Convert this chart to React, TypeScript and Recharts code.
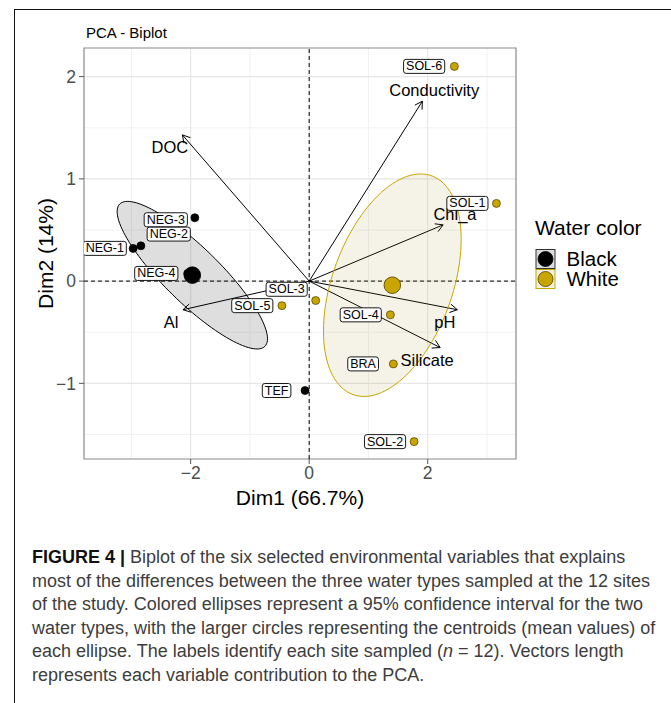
import {
  ScatterChart,
  Scatter,
  XAxis,
  YAxis,
  CartesianGrid,
  ReferenceLine,
  ReferenceArea,
  Legend,
} from "recharts";

const FONT = '"Liberation Sans", Arial, Helvetica, sans-serif';

// Site scores on the first two PCA dimensions
const sites = ["NEG-1", "NEG-2", "NEG-3", "NEG-4", "TEF", "SOL-1", "SOL-2", "SOL-3", "SOL-4", "SOL-5", "SOL-6", "BRA"];
const siteGroup = ["Black", "Black", "Black", "Black", "Black", "White", "White", "White", "White", "White", "White", "White"];
const dim1 = [-2.97, -2.84, -1.93, -2.05, -0.07, 3.16, 1.77, 0.11, 1.37, -0.46, 2.45, 1.42];
const dim2 = [0.32, 0.345, 0.62, 0.075, -1.07, 0.76, -1.57, -0.19, -0.33, -0.24, 2.1, -0.81];
// where the repelled site labels ended up
const siteLabelDim1 = [-3.45, -2.37, -2.42, -2.58, -0.55, 2.67, 1.28, -0.38, 0.87, -0.96, 1.94, 0.91];
const siteLabelDim2 = [0.32, 0.46, 0.6, 0.075, -1.07, 0.76, -1.57, -0.08, -0.33, -0.24, 2.1, -0.81];

// Variable loadings (arrow tips) and their label anchors
const variables = ["DOC", "Conductivity", "Chl_a", "pH", "Silicate", "Al"];
const varDim1 = [-2.14, 1.91, 2.26, 2.5, 2.21, -2.13];
const varDim2 = [1.43, 1.76, 0.55, -0.28, -0.65, -0.28];
const varLabelDim1 = [-2.35, 2.11, 2.46, 2.29, 1.99, -2.33];
const varLabelDim2 = [1.31, 1.87, 0.66, -0.4, -0.77, -0.4];

const groups = ["Black", "White"];
const xTicks = [-2, 0, 2];
const yTicks = [-1, 0, 1, 2];
const xMinor = [-3, -1, 1, 3];
const yMinor = [-1.5, -0.5, 0.5, 1.5];

const X_DOMAIN: [number, number] = [-3.8, 3.49];
const Y_DOMAIN: [number, number] = [-1.74, 2.28];

const COLORS: Record<string, string> = { Black: "#000000", White: "#C9A500" };
const ELLIPSE_FILL: Record<string, string> = { Black: "#000000", White: "#9b8410" };

const captionLines = [
  "Biplot of the six selected environmental variables that explains",
  "most of the differences between the three water types sampled at the 12 sites",
  "of the study. Colored ellipses represent a 95% confidence interval for the two",
  "water types, with the larger circles representing the centroids (mean values) of",
  "each ellipse. The labels identify each site sampled (",
  "represents each variable contribution to the PCA.",
];

const points = sites.map((name, i) => ({ name, group: siteGroup[i], x: dim1[i], y: dim2[i] }));
const siteLabels = sites.map((name, i) => ({ name, x: siteLabelDim1[i], y: siteLabelDim2[i] }));
const varLabels = variables.map((name, i) => ({ name, x: varLabelDim1[i], y: varLabelDim2[i] }));

const mean = (a: number[]) => a.reduce((s, v) => s + v, 0) / a.length;

const centroids = groups.map((g) => {
  const idx = siteGroup.map((s, i) => (s === g ? i : -1)).filter((i) => i >= 0);
  return { group: g, x: mean(idx.map((i) => dim1[i])), y: mean(idx.map((i) => dim2[i])) };
});

// 95% confidence ellipse of the group mean (same idea as factoextra's "confidence" ellipses)
function confidenceEllipse(group: string) {
  const idx = siteGroup.map((s, i) => (s === group ? i : -1)).filter((i) => i >= 0);
  const xs = idx.map((i) => dim1[i]);
  const ys = idx.map((i) => dim2[i]);
  const n = xs.length;
  const mx = mean(xs);
  const my = mean(ys);
  let sxx = 0, syy = 0, sxy = 0;
  for (let k = 0; k < n; k++) {
    sxx += (xs[k] - mx) ** 2;
    syy += (ys[k] - my) ** 2;
    sxy += (xs[k] - mx) * (ys[k] - my);
  }
  const d = (n - 1) * n;
  sxx /= d; syy /= d; sxy /= d;
  const l11 = Math.sqrt(sxx);
  const l21 = sxy / l11;
  const l22 = Math.sqrt(syy - l21 * l21);
  const r = Math.sqrt(5.991); // chi-square(2 df) at 0.95
  const out = [];
  for (let k = 0; k <= 120; k++) {
    const t = (2 * Math.PI * k) / 120;
    const u = Math.cos(t), v = Math.sin(t);
    out.push({ x: mx + r * l11 * u, y: my + r * (l21 * u + l22 * v) });
  }
  return out;
}

const ellipses = groups.map((g) => ({ group: g, pts: confidenceEllipse(g) }));

// rough Arial advance widths, used to size the label boxes
const CHAR_W: Record<string, number> = {
  N: 0.722, E: 0.667, G: 0.778, "-": 0.333, S: 0.667, O: 0.778, L: 0.556,
  T: 0.611, F: 0.611, B: 0.667, R: 0.722, A: 0.667,
};
const textWidth = (s: string, fs: number) =>
  s.split("").reduce((w, c) => w + (CHAR_W[c] ?? 0.556), 0) * fs;

const minus = (v: number) => String(v).replace("-", "\u2212");

function SiteLabel(props: any) {
  const { cx, cy, payload } = props;
  const fs = 12.5;
  const w = textWidth(payload.name, fs) + 5;
  const h = 14;
  return (
    <g>
      <rect x={cx - w / 2} y={cy - h / 2} width={w} height={h} rx={2.5} fill="#fff" stroke="#000" strokeWidth={0.9} />
      <text x={cx} y={cy} textAnchor="middle" dominantBaseline="central" fontSize={fs} fontFamily={FONT} fill="#000">
        {payload.name}
      </text>
    </g>
  );
}

function VarLabel(props: any) {
  const { cx, cy, payload } = props;
  return (
    <text x={cx} y={cy} textAnchor="middle" dominantBaseline="central" fontSize={16.5} fontFamily={FONT} fill="#000">
      {payload.name}
    </text>
  );
}

function SitePoint(props: any) {
  const { cx, cy, payload } = props;
  const c = COLORS[payload.group];
  return <circle cx={cx} cy={cy} r={4} fill={c} stroke={payload.group === "Black" ? "#000" : "#4a3d00"} strokeWidth={0.7} />;
}

function CentroidPoint(props: any) {
  const { cx, cy, payload } = props;
  const c = COLORS[payload.group];
  return <circle cx={cx} cy={cy} r={8.3} fill={c} stroke={payload.group === "Black" ? "#000" : "#4a3d00"} strokeWidth={0.8} />;
}

function Arrow(props: any) {
  const { x1, y1, x2, y2 } = props;
  const a = Math.atan2(y2 - y1, x2 - x1);
  const len = 8.5;
  const spread = Math.PI / 6;
  const ax = x2 - len * Math.cos(a - spread);
  const ay = y2 - len * Math.sin(a - spread);
  const bx = x2 - len * Math.cos(a + spread);
  const by = y2 - len * Math.sin(a + spread);
  return (
    <g>
      <line x1={x1} y1={y1} x2={x2} y2={y2} stroke="#000" strokeWidth={1} />
      <path d={`M${ax},${ay}L${x2},${y2}L${bx},${by}`} fill="none" stroke="#000" strokeWidth={1} />
    </g>
  );
}

function WaterLegend() {
  return (
    <div style={{ fontFamily: FONT, color: "#000", position: "relative", width: 130, height: 76 }}>
      <div style={{ fontSize: 21, lineHeight: "24px", whiteSpace: "nowrap" }}>Water color</div>
      {groups.map((g, i) => (
        <div key={g} style={{ position: "absolute", left: 0, top: 32.7 + i * 20, height: 20, display: "flex" }}>
          <svg width={21} height={20} style={{ display: "block" }}>
            <rect x={1} y={0.5} width={19} height={19} fill={g === "Black" ? "#dcdcdc" : "#f4f1e2"} stroke={g === "Black" ? "#333" : COLORS.White} strokeWidth={1} />
            <circle cx={10.5} cy={10} r={7.5} fill={COLORS[g]} stroke={g === "Black" ? "#000" : "#4a3d00"} strokeWidth={0.8} />
          </svg>
          <span style={{ marginLeft: 10.5, fontSize: 20.5, lineHeight: "20px", whiteSpace: "nowrap" }}>{g}</span>
        </div>
      ))}
    </div>
  );
}

export default function App() {
  return (
    <div style={{ position: "absolute", left: 0, top: 0, width: 671, height: 703, background: "#fff", overflow: "hidden" }}>
      <div style={{ position: "absolute", left: 14, top: 9, width: 700, height: 700, borderTop: "1.3px solid #111", borderLeft: "1.3px solid #111" }} />
      <div style={{ position: "absolute", left: 86, top: 24.6, fontFamily: FONT, fontSize: 15, lineHeight: "15px", color: "#000" }}>
        PCA - Biplot
      </div>

      <div style={{ position: "absolute", left: 0, top: 0 }}>
        <ScatterChart width={671} height={520} margin={{ top: 48, right: 155, left: 44, bottom: 11 }}>
          <CartesianGrid verticalValues={xMinor} horizontalValues={yMinor} stroke="#f1f1f1" strokeWidth={1} fill="none" />
          <CartesianGrid verticalValues={xTicks} horizontalValues={yTicks} stroke="#e6e6e6" strokeWidth={1.1} fill="none" />
          <XAxis
            type="number"
            dataKey="x"
            domain={X_DOMAIN}
            allowDataOverflow
            ticks={xTicks}
            interval={0}
            height={50}
            tickSize={5}
            tickMargin={3}
            axisLine={false}
            tickLine={{ stroke: "#555" }}
            tickFormatter={minus}
            tick={{ fontSize: 17.5, fill: "#4d4d4d", fontFamily: FONT }}
            label={{
              content: ({ viewBox }: any) => (
                <text x={viewBox.x + viewBox.width / 2} y={viewBox.y + 46} textAnchor="middle" fontSize={21} fontFamily={FONT} fill="#000">
                  Dim1 (66.7%)
                </text>
              ),
            }}
          />
          <YAxis
            type="number"
            dataKey="y"
            domain={Y_DOMAIN}
            allowDataOverflow
            ticks={yTicks}
            interval={0}
            width={40}
            tickSize={5}
            tickMargin={3}
            axisLine={false}
            tickLine={{ stroke: "#555" }}
            tickFormatter={minus}
            tick={{ fontSize: 17.5, fill: "#4d4d4d", fontFamily: FONT }}
            label={{
              content: ({ viewBox }: any) => {
                const x = viewBox.x + 9;
                const y = viewBox.y + viewBox.height / 2;
                return (
                  <text x={x} y={y} transform={`rotate(-90, ${x}, ${y})`} textAnchor="middle" fontSize={21} fontFamily={FONT} fill="#000">
                    Dim2 (14%)
                  </text>
                );
              },
            }}
          />
          <ReferenceArea x1={X_DOMAIN[0]} x2={X_DOMAIN[1]} y1={Y_DOMAIN[0]} y2={Y_DOMAIN[1]} fill="none" stroke="#8a8a8a" strokeWidth={1.2} ifOverflow="visible" />

          {ellipses.map((e) => (
            <Scatter
              key={`ell-${e.group}`}
              data={e.pts}
              isAnimationActive={false}
              legendType="none"
              shape={() => <g />}
              line={(p: any) => (
                <path
                  d={p.points.map((pt: any, k: number) => `${k === 0 ? "M" : "L"}${pt.x},${pt.y}`).join("") + "Z"}
                  fill={ELLIPSE_FILL[e.group]}
                  fillOpacity={e.group === "Black" ? 0.13 : 0.1}
                  stroke={COLORS[e.group]}
                  strokeWidth={1}
                />
              )}
            />
          ))}

          <ReferenceLine x={0} stroke="#000" strokeDasharray="4 3" strokeWidth={1} />
          <ReferenceLine y={0} stroke="#000" strokeDasharray="4 3" strokeWidth={1} />

          {variables.map((v, i) => (
            <ReferenceLine
              key={`arrow-${v}`}
              segment={[{ x: 0, y: 0 }, { x: varDim1[i], y: varDim2[i] }]}
              ifOverflow="visible"
              shape={Arrow}
            />
          ))}

          <Scatter data={points} isAnimationActive={false} shape={SitePoint} />
          <Scatter data={centroids} isAnimationActive={false} shape={CentroidPoint} />
          <Scatter data={varLabels} isAnimationActive={false} shape={VarLabel} />
          <Scatter data={siteLabels} isAnimationActive={false} shape={SiteLabel} />

          <Legend
            layout="horizontal"
            verticalAlign="middle"
            align="center"
            wrapperStyle={{ left: 535, top: 216, width: 130, height: 76 }}
            content={() => <WaterLegend />}
          />
        </ScatterChart>
      </div>

      <div style={{ position: "absolute", left: 32, top: 546.3, fontFamily: FONT, fontSize: 18, lineHeight: "23.5px", color: "#3d3d3d", whiteSpace: "nowrap" }}>
        <div>
          <b style={{ color: "#111" }}>FIGURE 4 |</b> {captionLines[0]}
        </div>
        <div>{captionLines[1]}</div>
        <div>{captionLines[2]}</div>
        <div>{captionLines[3]}</div>
        <div>
          {captionLines[4]}
          <i>n</i> = 12). Vectors length
        </div>
        <div>{captionLines[5]}</div>
      </div>
    </div>
  );
}
